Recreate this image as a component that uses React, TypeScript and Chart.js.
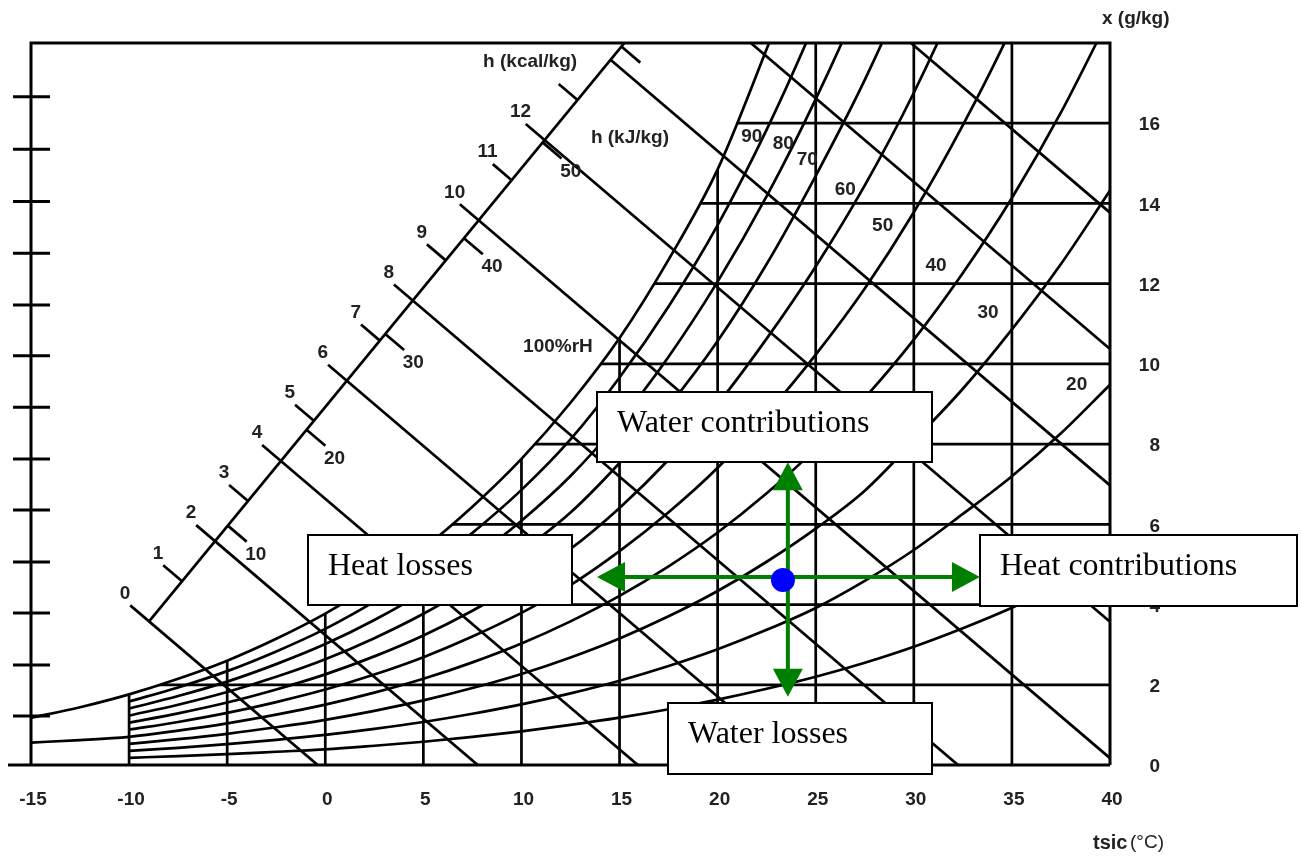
import React, { useEffect, useRef } from "react";
import { Chart, registerables } from "chart.js";

Chart.register(...registerables);

// Dry-bulb temperatures of the humidity table (°C)
const TEMPS = [-15, -12.5, -10, -7.5, -5, -2.5, 0, 2.5, 5, 7.5, 10, 12.5, 15, 17.5, 20, 22.5, 25, 27.5, 30, 32.5, 35, 37.5, 40];

// Moisture content x (g/kg) along each relative-humidity line, aligned with TEMPS
const X_RH100 = [1.175, 1.44, 1.761, 2.15, 2.602, 3.147, 3.774, 4.527, 5.4, 6.439, 7.631, 9.031, 10.646, 12.6, 14.85, 17.85, 21.0, 24.4];
const X_RH90 = [null, null, 1.584, 1.934, 2.34, 2.831, 3.394, 4.071, 4.855, 5.788, 6.859, 8.116, 9.66, 11.43, 13.46, 15.84, 18.56, 21.6];
const X_RH80 = [null, null, 1.408, 1.719, 2.079, 2.515, 3.015, 3.616, 4.312, 5.14, 6.09, 7.204, 8.57, 10.18, 12.05, 14.18, 16.6, 19.32, 22.44];
const X_RH70 = [null, null, 1.231, 1.503, 1.819, 2.199, 2.637, 3.162, 3.77, 4.493, 5.322, 6.294, 7.53, 8.94, 10.57, 12.49, 14.69, 17.08, 19.83, 22.99];
const X_RH60 = [null, null, 1.055, 1.288, 1.558, 1.884, 2.259, 2.708, 3.229, 3.847, 4.556, 5.387, 6.41, 7.61, 9.0, 10.63, 12.43, 14.45, 16.76, 19.42, 22.41];
const X_RH50 = [null, null, 0.879, 1.073, 1.298, 1.569, 1.881, 2.255, 2.688, 3.202, 3.792, 4.483, 5.33, 6.3, 7.41, 8.75, 10.23, 11.88, 13.78, 15.95, 18.39, 21.19];
const X_RH40 = [0.56, 0.62, 0.703, 0.858, 1.038, 1.255, 1.504, 1.803, 2.149, 2.559, 3.03, 3.581, 4.215, 4.953, 5.797, 6.774, 7.881, 9.152, 10.604, 12.267, 14.137, 16.268, 18.676];
const X_RH30 = [null, null, 0.527, 0.643, 0.778, 0.941, 1.127, 1.351, 1.61, 1.918, 2.27, 2.682, 3.156, 3.707, 4.338, 5.067, 5.892, 6.839, 8.08, 9.38, 10.86, 12.49, 14.32];
const X_RH20 = [null, null, 0.351, 0.429, 0.519, 0.627, 0.751, 0.9, 1.072, 1.277, 1.511, 1.785, 2.101, 2.467, 2.885, 3.369, 3.915, 4.59, 5.36, 6.26, 7.2, 8.27, 9.48];
const X_RH10 = [null, null, 0.18, 0.22, 0.27, 0.33, 0.39, 0.48, 0.58, 0.7, 0.84, 1.0, 1.18, 1.39, 1.63, 1.9, 2.2, 2.55, 2.95, 3.41, 3.92, 4.5, 5.15];

const RH_SERIES = [X_RH100, X_RH90, X_RH80, X_RH70, X_RH60, X_RH50, X_RH40, X_RH30, X_RH20, X_RH10];
const RH_LABELS = ["100%rH", "90", "80", "70", "60", "50", "40", "30", "20"];

// Axis ticks
const T_TICKS = [-15, -10, -5, 0, 5, 10, 15, 20, 25, 30, 35, 40];
const X_TICKS = [0, 2, 4, 6, 8, 10, 12, 14, 16];
const LEFT_MARKS = [1.22, 2.49, 3.79, 5.06, 6.36, 7.63, 8.92, 10.2, 11.47, 12.76, 14.05, 15.35, 16.66];

// Enthalpy lines and scale
const H_KCAL_LINES = [0, 2, 4, 6, 8, 10, 12, 14, 16, 18];
const H_KCAL_TICKS = [1, 3, 5, 7, 9, 11, 13];
const H_KCAL_LABELS = [0, 1, 2, 3, 4, 5, 6, 7, 8, 9, 10, 11, 12];
const H_KJ_TICKS = [10, 20, 30, 40, 50, 60];
const H_KJ_LABELS = [10, 20, 30, 40, 50];

// Process state and its four directions
const STATE_POINT = { t: 23.33, x: 4.61 };

// ---- geometry of the enthalpy scale (data units: °C, g/kg) ----
const KJ_PER_KCAL = 4.1868;
const H_SCALE_ORIGIN = { t: -8.98, x: 3.58 };
const H_SCALE_STEP = { t: 1.68, x: 1.0 };
const ISENTHALP_DIR = { t: 2.4, x: -1 };
const TICK_LEN = 0.4;

const scalePoint = (kcal: number) => ({
  t: H_SCALE_ORIGIN.t + kcal * H_SCALE_STEP.t,
  x: H_SCALE_ORIGIN.x + kcal * H_SCALE_STEP.x,
});
const along = (p: { t: number; x: number }, s: number) => ({ x: p.t + s * ISENTHALP_DIR.t, y: p.x + s * ISENTHALP_DIR.x });

const INK = "#000000";
const LABEL_INK = "#222222";
const SANS = "'Liberation Sans', Arial, sans-serif";
const SERIF = "'Liberation Serif', 'Times New Roman', serif";
const LABEL_FONT = `bold 19px ${SANS}`;
const LINE_W = 2.7;

// Label placement (data coordinates) for the humidity lines
const RH_LABEL_AT = [
  { t: 11.86, x: 10.42 },
  { t: 21.74, x: 15.67 },
  { t: 23.35, x: 15.5 },
  { t: 24.57, x: 15.08 },
  { t: 26.51, x: 14.34 },
  { t: 28.41, x: 13.45 },
  { t: 31.13, x: 12.44 },
  { t: 33.78, x: 11.27 },
  { t: 38.3, x: 9.49 },
];

// Label offsets (px) from the enthalpy scale
const KCAL_LABEL_SHIFT = { dx: -24, dy: -28 };
const KJ_LABEL_SHIFT = { dx: 28, dy: 29 };

// Annotation boxes, in canvas pixels
const BOXES = [
  { text: "Water contributions", left: 597, top: 392, width: 335, height: 70 },
  { text: "Heat losses", left: 308, top: 535, width: 264, height: 70 },
  { text: "Heat contributions", left: 980, top: 535, width: 317, height: 71 },
  { text: "Water losses", left: 668, top: 703, width: 264, height: 71 },
];

const ARROW_H = { x: 4.69, tFrom: 13.85, tTo: 33.37 };
const ARROW_V = { t: 23.58, xFrom: 7.55, xTo: 1.7 };

function drawText(ctx: CanvasRenderingContext2D, s: string, px: number, py: number, font = LABEL_FONT, align: CanvasTextAlign = "center", color = LABEL_INK) {
  ctx.font = font;
  ctx.fillStyle = color;
  ctx.textAlign = align;
  ctx.textBaseline = "middle";
  ctx.fillText(s, px, py);
}

function arrowHead(ctx: CanvasRenderingContext2D, tipX: number, tipY: number, dx: number, dy: number) {
  const len = 28;
  const half = 15;
  const bx = tipX - dx * len;
  const by = tipY - dy * len;
  ctx.beginPath();
  ctx.moveTo(tipX, tipY);
  ctx.lineTo(bx - dy * half, by + dx * half);
  ctx.lineTo(bx + dy * half, by - dx * half);
  ctx.closePath();
  ctx.fill();
}

const decorPlugin = {
  id: "psychroDecor",
  beforeDraw(chart: any) {
    const { ctx, chartArea: a } = chart;
    const xs = chart.scales.x;
    const ys = chart.scales.y;
    ctx.save();
    ctx.beginPath();
    ctx.rect(a.left, a.top, a.right - a.left, a.bottom - a.top);
    ctx.clip();
    ctx.strokeStyle = INK;
    ctx.lineWidth = LINE_W;
    ctx.beginPath();
    T_TICKS.slice(1, -1).forEach((t) => {
      const px = xs.getPixelForValue(t);
      ctx.moveTo(px, a.top);
      ctx.lineTo(px, a.bottom);
    });
    X_TICKS.slice(1).forEach((v) => {
      const py = ys.getPixelForValue(v);
      ctx.moveTo(a.left, py);
      ctx.lineTo(a.right, py);
    });
    ctx.stroke();
    ctx.restore();
  },
  afterDatasetsDraw(chart: any) {
    const { ctx, chartArea: a } = chart;
    const xs = chart.scales.x;
    const ys = chart.scales.y;
    const P = (t: number, x: number) => [xs.getPixelForValue(t), ys.getPixelForValue(x)];
    ctx.save();

    // frame
    ctx.strokeStyle = INK;
    ctx.lineWidth = 3;
    ctx.beginPath();
    ctx.moveTo(a.left, a.bottom);
    ctx.lineTo(a.left, a.top);
    ctx.lineTo(a.right, a.top);
    ctx.lineTo(a.right, a.bottom);
    ctx.moveTo(8, a.bottom);
    ctx.lineTo(a.right, a.bottom);
    LEFT_MARKS.forEach((v) => {
      const py = ys.getPixelForValue(v);
      ctx.moveTo(13, py);
      ctx.lineTo(50, py);
    });
    ctx.stroke();

    // axis tick labels
    T_TICKS.forEach((t) => drawText(ctx, String(t), xs.getPixelForValue(t) + 2, a.bottom + 35));
    X_TICKS.forEach((v) => drawText(ctx, String(v), a.right + 50, ys.getPixelForValue(v) + 2, LABEL_FONT, "right"));
    drawText(ctx, "x (g/kg)", a.right - 8, 19, LABEL_FONT, "left");
    drawText(ctx, "tsic", a.right - 17, 843, `bold 20px ${SANS}`, "left");
    drawText(ctx, "(°C)", a.right + 20, 843, `19px ${SANS}`, "left");

    // enthalpy scale labels
    H_KCAL_LABELS.forEach((k) => {
      const s = scalePoint(k);
      const [px, py] = P(s.t, s.x);
      drawText(ctx, String(k), px + KCAL_LABEL_SHIFT.dx, py + KCAL_LABEL_SHIFT.dy);
    });
    H_KJ_LABELS.forEach((h) => {
      const s = scalePoint(h / KJ_PER_KCAL);
      const [px, py] = P(s.t, s.x);
      drawText(ctx, String(h), px + KJ_LABEL_SHIFT.dx, py + KJ_LABEL_SHIFT.dy);
    });
    {
      const [px, py] = P(10.44, 17.53);
      drawText(ctx, "h (kcal/kg)", px, py);
      const [qx, qy] = P(15.53, 15.63);
      drawText(ctx, "h (kJ/kg)", qx, qy);
    }

    // relative humidity labels
    RH_LABELS.forEach((s, i) => {
      const [px, py] = P(RH_LABEL_AT[i].t, RH_LABEL_AT[i].x);
      drawText(ctx, s, px, py);
    });

    // annotation boxes
    BOXES.forEach((b) => {
      ctx.fillStyle = "#ffffff";
      ctx.fillRect(b.left, b.top, b.width, b.height);
      ctx.strokeStyle = INK;
      ctx.lineWidth = 2;
      ctx.strokeRect(b.left, b.top, b.width, b.height);
      ctx.font = `32px ${SERIF}`;
      ctx.fillStyle = INK;
      ctx.textAlign = "left";
      ctx.textBaseline = "alphabetic";
      ctx.fillText(b.text, b.left + 20, b.top + 40);
    });

    // arrows
    ctx.strokeStyle = "#008000";
    ctx.fillStyle = "#008000";
    ctx.lineWidth = 4;
    const [hx1, hy] = P(ARROW_H.tFrom, ARROW_H.x);
    const [hx2] = P(ARROW_H.tTo, ARROW_H.x);
    const [vx, vy1] = P(ARROW_V.t, ARROW_V.xFrom);
    const [, vy2] = P(ARROW_V.t, ARROW_V.xTo);
    ctx.beginPath();
    ctx.moveTo(hx1 + 20, hy);
    ctx.lineTo(hx2 - 20, hy);
    ctx.moveTo(vx, vy1 + 20);
    ctx.lineTo(vx, vy2 - 20);
    ctx.stroke();
    arrowHead(ctx, hx1, hy, -1, 0);
    arrowHead(ctx, hx2, hy, 1, 0);
    arrowHead(ctx, vx, vy1, 0, -1);
    arrowHead(ctx, vx, vy2, 0, 1);

    // state point
    const [sx, sy] = P(STATE_POINT.t, STATE_POINT.x);
    ctx.fillStyle = "#0000ff";
    ctx.beginPath();
    ctx.arc(sx, sy, 12, 0, Math.PI * 2);
    ctx.fill();

    ctx.restore();
  },
};

function buildDatasets() {
  const base = { borderColor: INK, borderWidth: LINE_W, pointRadius: 0, fill: false, tension: 0 };
  const sets: any[] = [];

  RH_SERIES.forEach((vals, i) => {
    const data = vals
      .map((v, j) => (v == null ? null : { x: TEMPS[j], y: v }))
      .filter((p) => p !== null);
    sets.push({
      ...base,
      data,
      cubicInterpolationMode: "monotone",
      fill: i === 0 ? "end" : false,
      backgroundColor: "#ffffff",
    });
  });

  const s0 = scalePoint(0);
  const s1 = scalePoint(15);
  sets.push({ ...base, data: [{ x: s0.t, y: s0.x }, { x: s1.t, y: s1.x }] });

  H_KCAL_LINES.forEach((k) => {
    const p = scalePoint(k);
    sets.push({ ...base, data: [along(p, k <= 12 ? -TICK_LEN : 0), along(p, 40)] });
  });
  H_KCAL_TICKS.forEach((k) => {
    const p = scalePoint(k);
    sets.push({ ...base, data: [along(p, -TICK_LEN), along(p, 0)] });
  });
  H_KJ_TICKS.forEach((h) => {
    const p = scalePoint(h / KJ_PER_KCAL);
    sets.push({ ...base, data: [along(p, 0), along(p, TICK_LEN)] });
  });
  return sets;
}

export default function App() {
  const ref = useRef<HTMLCanvasElement | null>(null);

  useEffect(() => {
    if (!ref.current) return;
    const chart = new Chart(ref.current, {
      type: "line",
      data: { datasets: buildDatasets() },
      options: {
        animation: false,
        responsive: false,
        events: [],
        layout: { padding: { left: 31, right: 191, top: 43, bottom: 92 } },
        scales: {
          x: { type: "linear", min: -15, max: 40, display: false },
          y: { type: "linear", min: 0, max: 18, display: false },
        },
        plugins: {
          legend: { display: false },
          tooltip: { enabled: false },
          filler: { drawTime: "beforeDatasetsDraw" },
        },
      } as any,
      plugins: [decorPlugin],
    });
    return () => chart.destroy();
  }, []);

  return (
    <div style={{ position: "absolute", left: 0, top: 0, width: 1301, height: 857, background: "#ffffff" }}>
      <canvas ref={ref} width={1301} height={857} style={{ display: "block" }} />
    </div>
  );
}
